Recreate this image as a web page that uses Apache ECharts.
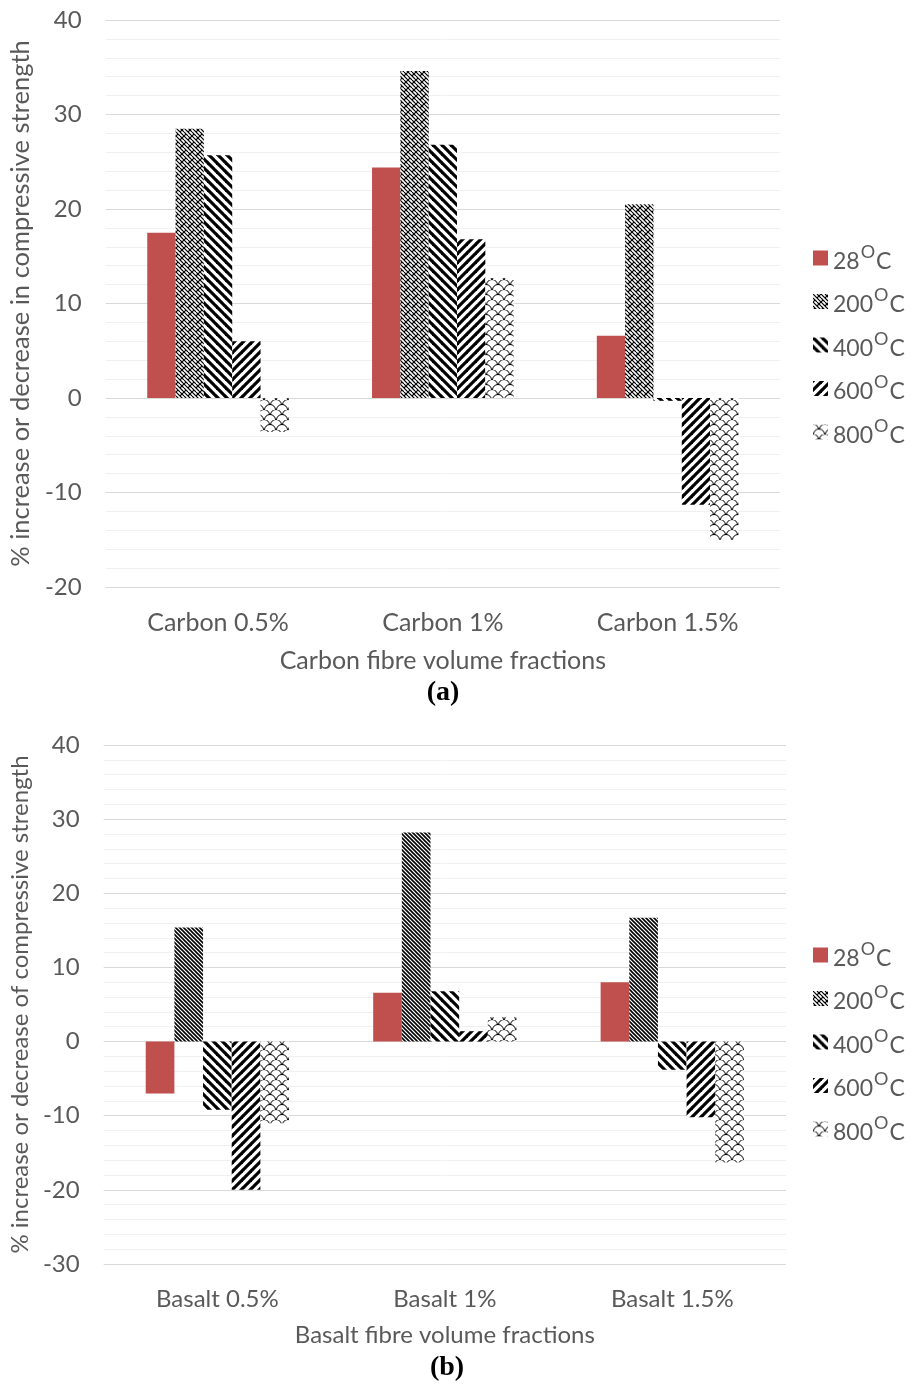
<!DOCTYPE html>
<html>
<head>
<meta charset="utf-8">
<script src="https://cdn.jsdelivr.net/npm/echarts@6/dist/echarts.min.js"></script>
<style>
html,body{margin:0;padding:0;background:#fff;}
#c{width:912px;height:1385px;}
</style>
</head>
<body>
<div id="c"></div>
<script>
// ---- data ----
const categoriesA = ['Carbon 0.5%', 'Carbon 1%', 'Carbon 1.5%'];
const a28  = [17.5, 24.4, 6.6];
const a200 = [28.5, 34.6, 20.5];
const a400 = [25.7, 26.8, -0.3];
const a600 = [6.0, 16.8, -11.3];
const a800 = [-3.6, 12.7, -15.0];

const categoriesB = ['Basalt 0.5%', 'Basalt 1%', 'Basalt 1.5%'];
const b28  = [-7.0, 6.6, 8.0];
const b200 = [15.4, 28.2, 16.7];
const b400 = [-9.2, 6.8, -3.8];
const b600 = [-20.0, 1.4, -10.2];
const b800 = [-11.0, 3.3, -16.3];

const seriesNames = ['28', '200', '400', '600', '800'];
const yTicksA = [-20, 40, 10];
const yTicksB = [-30, 40, 10];

// ---- patterns ----
function tile(w, h, draw) {
  const c = document.createElement('canvas');
  c.width = w; c.height = h;
  const g = c.getContext('2d');
  g.fillStyle = '#fff'; g.fillRect(0, 0, w, h);
  g.strokeStyle = '#000'; g.fillStyle = '#000';
  draw(g, w, h);
  return c;
}
function stripes(dir, p, lw) {
  return tile(p, p, (g) => {
    g.lineWidth = lw;
    for (let k = -1; k <= 1; k++) {
      g.beginPath();
      if (dir === '\\') { g.moveTo(k * p - 1, -1); g.lineTo(k * p + p + 1, p + 1); }
      else { g.moveTo(k * p - 1, p + 1); g.lineTo(k * p + p + 1, -1); }
      g.stroke();
    }
  });
}
const weave = tile(8, 8, (g) => {
  g.lineWidth = 1.1;
  const seg = (x1, y1, x2, y2) => { g.beginPath(); g.moveTo(x1, y1); g.lineTo(x2, y2); g.stroke(); };
  seg(0, 0, 4, 4); seg(4, 4, 8, 8);
  seg(8, 0, 4, 4); seg(0, 8, 2, 6);
  seg(4, 0, 6, 2); seg(2, 6, 4, 8);
  seg(6, 2, 8, 4); seg(0, 4, 2, 6);
});
const scales = tile(12, 10, (g) => {
  g.lineWidth = 1;
  g.beginPath(); g.arc(6, 10, 5.5, Math.PI, 2 * Math.PI); g.stroke();
  g.beginPath(); g.arc(0, 5, 5.5, Math.PI, 2 * Math.PI); g.stroke();
  g.beginPath(); g.arc(12, 5, 5.5, Math.PI, 2 * Math.PI); g.stroke();
});
const pat = (cv) => ({ image: cv, repeat: 'repeat' });
const P200a = pat(weave);
const P200b = pat(stripes('\\', 4, 1.6));
const P400 = pat(stripes('\\', 9, 3.2));
const P600 = pat(stripes('/', 9, 3.2));
const P800 = pat(scales);
const RED = '#C0504D';

const FONT = 'Lato';
const TXT = '#595959';

function yAxis(idx, ticks, name, gap, nameSize) {
  return {
    type: 'value', gridIndex: idx, min: ticks[0], max: ticks[1], interval: ticks[2],
    name: name, nameLocation: 'middle', nameGap: gap,
    nameTextStyle: { fontFamily: FONT, fontSize: nameSize, color: TXT },
    axisLine: { show: false }, axisTick: { show: false },
    axisLabel: { fontFamily: FONT, fontSize: 24, color: TXT, margin: 24 },
    splitLine: { lineStyle: { color: '#d9d9d9', width: 1 } },
    minorTick: { show: false, splitNumber: 5 },
    minorSplitLine: { show: true, lineStyle: { color: '#f0f0f0', width: 1 } }
  };
}
function xAxis(idx, cats, name, gap, margin, size) {
  return {
    type: 'category', gridIndex: idx, data: cats, position: 'bottom',
    name: name, nameLocation: 'middle', nameGap: gap,
    nameTextStyle: { fontFamily: FONT, fontSize: size, color: TXT },
    axisLine: { show: false, onZero: false }, axisTick: { show: false },
    axisLabel: { fontFamily: FONT, fontSize: size, color: TXT, margin: margin }
  };
}
function bars(idx, vals, colors) {
  return vals.map((v, i) => ({
    name: seriesNames[i], type: 'bar', xAxisIndex: idx, yAxisIndex: idx,
    data: v, barGap: '0%', barCategoryGap: '37%',
    itemStyle: { color: colors[i] }, emphasis: { disabled: true }
  }));
}
function legend(top, override200) {
  return {
    orient: 'vertical', left: 808, top: top, itemGap: 13.5,
    itemWidth: 15, itemHeight: 15, icon: 'rect',
    data: seriesNames.map((n) => (n === '200' && override200) ? { name: n, itemStyle: { color: override200 } } : { name: n }),
    formatter: (n) => '{n|' + n + '}{s|O}{n|C}',
    textStyle: {
      fontFamily: FONT, fontSize: 23, color: TXT,
      rich: {
        n: { fontFamily: FONT, fontSize: 23, color: TXT, lineHeight: 30, verticalAlign: 'bottom' },
        s: { fontFamily: FONT, fontSize: 18, color: TXT, lineHeight: 30, verticalAlign: 'top', padding: [0, 1, 0, 1] }
      }
    }
  };
}

const chart = echarts.init(document.getElementById('c'), null, { renderer: 'canvas' });
chart.setOption({
  backgroundColor: '#fff',
  animation: false,
  grid: [
    { left: 103, right: 132, top: 20, bottom: 1385 - 587 },
    { left: 96, right: 126, top: 745, bottom: 1385 - 1264 }
  ],
  xAxis: [
    xAxis(0, categoriesA, 'Carbon fibre volume fractions', 61, 23, 25),
    xAxis(1, categoriesB, 'Basalt fibre volume fractions', 59, 23, 24)
  ],
  yAxis: [
    yAxis(0, yTicksA, '% increase or decrease in compressive strength', 68, 25.5),
    yAxis(1, yTicksB, '% increase or decrease of compressive strength', 62, 24)
  ],
  legend: [legend(238, null), legend(935, P200a)],
  series: [
    ...bars(0, [a28, a200, a400, a600, a800], [RED, P200a, P400, P600, P800]),
    ...bars(1, [b28, b200, b400, b600, b800], [RED, P200b, P400, P600, P800])
  ],
  graphic: [
    { type: 'text', x: 443, y: 693, style: { text: '(a)', font: 'bold 28px "Liberation Serif"', fill: '#000', align: 'center', verticalAlign: 'middle' } },
    { type: 'text', x: 447, y: 1368, style: { text: '(b)', font: 'bold 28px "Liberation Serif"', fill: '#000', align: 'center', verticalAlign: 'middle' } }
  ]
});
</script>
</body>
</html>
